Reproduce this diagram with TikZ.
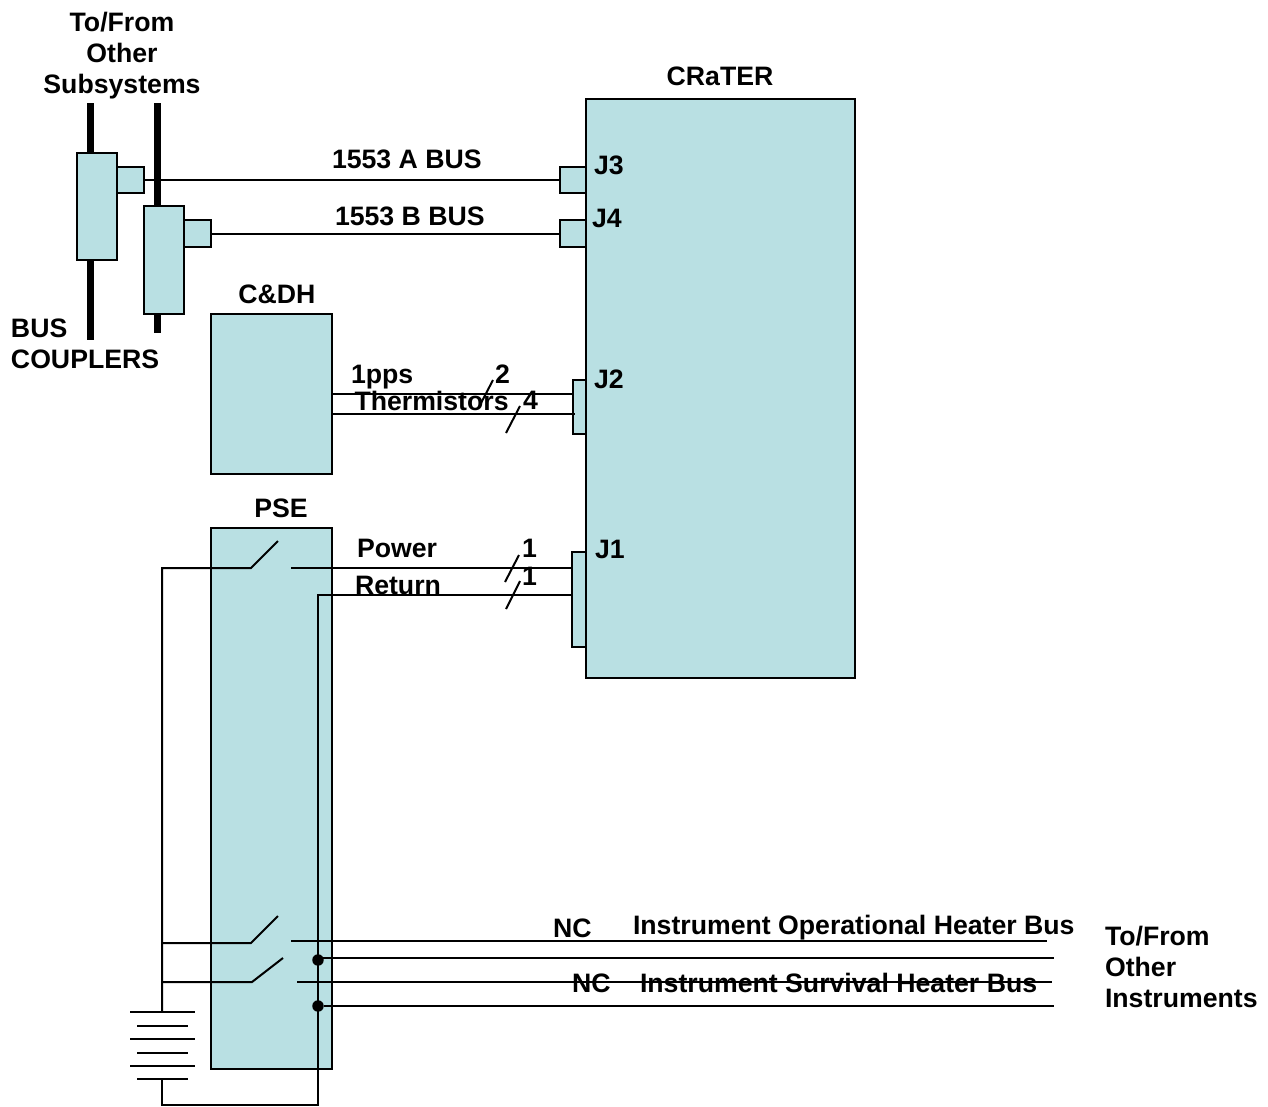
\documentclass[tikz,border=0pt]{standalone}
\usepackage{fontspec}
\setmainfont{Liberation Sans}
\definecolor{boxfill}{RGB}{185,224,227}
\tikzset{
  blockbox/.style={draw=black,fill=boxfill,line width=1.5pt,inner sep=0pt,outer sep=0pt},
  wire/.style={draw=black,line width=1.5pt},
  bar/.style={draw=black,line width=5.4pt},
  slash/.style={draw=black,line width=1.5pt},
  lbl/.style={font=\fontsize{20}{24}\bfseries\selectfont,text=black,inner sep=0pt,outer sep=0pt,anchor=base west},
  clbl/.style={lbl,anchor=base},
  dotn/.style={circle,fill=black,draw=none,minimum size=8.6pt,inner sep=0pt}
}
\newcommand{\blk}[5]{\node[blockbox,minimum width=#4*0.75pt-#2*0.75pt,minimum height=#5*0.75pt-#3*0.75pt] (#1) at ({(#2+#4)/2},{(#3+#5)/2}) {};}
\begin{document}
\begin{tikzpicture}[x=0.75pt,y=-0.75pt]
\useasboundingbox (0,0) rectangle (1268,1107);
% bus bars
\coordinate (b1t) at (90.5,103); \coordinate (b1b) at (90.5,340);
\coordinate (b2t) at (157.5,103); \coordinate (b2b) at (157.5,333);
\draw[bar] (b1t) -- (b1b);
\draw[bar] (b2t) -- (b2b);
% blocks
\blk{crater}{586}{99}{855}{678}
\blk{couplerA}{77}{153}{117}{260}
\blk{stubA}{117}{167}{144}{193}
\blk{stubB}{184}{220}{211}{247}
\blk{couplerB}{144}{206}{184}{314}
\blk{jthree}{560}{167}{586}{193}
\blk{jfour}{560}{220}{586}{247}
\blk{cdh}{211}{314}{332}{474}
\blk{jtwo}{573}{380}{586}{434}
\blk{jone}{572}{552}{586}{647}
\blk{pse}{211}{528}{332}{1069}
% buses
\draw[wire] (stubA.east) -- (jthree.west);
\draw[wire] (stubB.east) -- (jfour.west);
% C&DH lines
\coordinate (ppsL) at (332,394); \coordinate (ppsR) at (573,394);
\coordinate (thL) at (332,414); \coordinate (thR) at (575,414);
\draw[wire] (ppsL) -- (ppsR);
\draw[wire] (thL) -- (thR);
% PSE main switch
\coordinate (batTop) at (162,1012);
\coordinate (s1a) at (162,568); \coordinate (s1b) at (251,568); \coordinate (s1c) at (278,541);
\coordinate (s1d) at (291,568); \coordinate (s1e) at (572,568);
\draw[wire] (batTop) -- (s1a) -- (s1b) -- (s1c);
\draw[wire] (s1d) -- (s1e);
% return
\coordinate (retR) at (572,595); \coordinate (retC) at (318,595); \coordinate (retB) at (318,1105);
\coordinate (batB) at (162,1105); \coordinate (batBot) at (162,1079);
\draw[wire] (retR) -- (retC) -- (retB) -- (batB) -- (batBot);
% lower switches
\coordinate (s2a) at (162,943); \coordinate (s2b) at (251,943); \coordinate (s2c) at (278,916);
\coordinate (s2d) at (291,941); \coordinate (s2e) at (1047,941);
\draw[wire] (s2a) -- (s2b) -- (s2c);
\draw[wire] (s2d) -- (s2e);
\coordinate (s3a) at (161,982); \coordinate (s3b) at (252,982); \coordinate (s3c) at (283,958);
\coordinate (s3d) at (297,982); \coordinate (s3e) at (1052,982);
\draw[wire] (s3a) -- (s3b) -- (s3c);
\draw[wire] (s3d) -- (s3e);
% junction dots
\node[dotn] (d1) at (318,960) {};
\node[dotn] (d2) at (318,1006) {};
\coordinate (d1e) at (1054,958); \coordinate (d1s) at (318,958);
\coordinate (d2e) at (1054,1006);
\draw[wire] (d1s) -- (d1e);
\draw[wire] (d2) -- (d2e);
% battery
\foreach \yy/\xa/\xb in {1012/130/195,1026/137/188,1039/130/195,1052.5/137/188,1066/130/195,1079/137/188}
  \draw[wire] (\xa,\yy) -- (\xb,\yy);
% slashes
\draw[slash] (493,380) -- (480,405);
\draw[slash] (520,406) -- (506,433);
\draw[slash] (519,555) -- (505,582);
\draw[slash] (520,581) -- (506,609);
% labels
\node[clbl] (t1) at (122,31) {To/From};
\node[clbl] (t2) at (122,62) {Other};
\node[clbl] (t3) at (122,93) {Subsystems};
\node[clbl] (tc) at (720,85) {CRaTER};
\node[lbl] (ta) at (332,168) {1553 A BUS};
\node[lbl] (tb) at (335,225) {1553 B BUS};
\node[lbl] (tj3) at (594,174) {J3};
\node[lbl] (tj4) at (592,227) {J4};
\node[clbl] (tcd) at (277,303) {C\&DH};
\node[lbl] (tbus) at (11,337) {BUS};
\node[lbl] (tcp) at (11,368) {COUPLERS};
\node[lbl] (tpps) at (351,383) {1pps};
\node[lbl] (t2n) at (495,383) {2};
\node[lbl] (tth) at (354.5,410) {Thermistors};
\node[lbl] (t4n) at (523,409) {4};
\node[lbl] (tj2) at (594,388) {J2};
\node[clbl] (tp) at (281,517) {PSE};
\node[lbl] (tpw) at (357,557) {Power};
\node[lbl] (t1a) at (522,557) {1};
\node[lbl] (t1b) at (522,585) {1};
\node[lbl] (tr) at (355,594) {Return};
\node[lbl] (tj1) at (595,558) {J1};
\node[lbl] (nc1) at (553,937) {NC};
\node[lbl] (iop) at (633,934) {Instrument Operational Heater Bus};
\node[lbl] (nc2) at (572,992) {NC};
\node[lbl] (isv) at (640,992) {Instrument Survival Heater Bus};
\node[lbl] (o1) at (1105,945) {To/From};
\node[lbl] (o2) at (1105,976) {Other};
\node[lbl] (o3) at (1105,1007) {Instruments};
\end{tikzpicture}
\end{document}
